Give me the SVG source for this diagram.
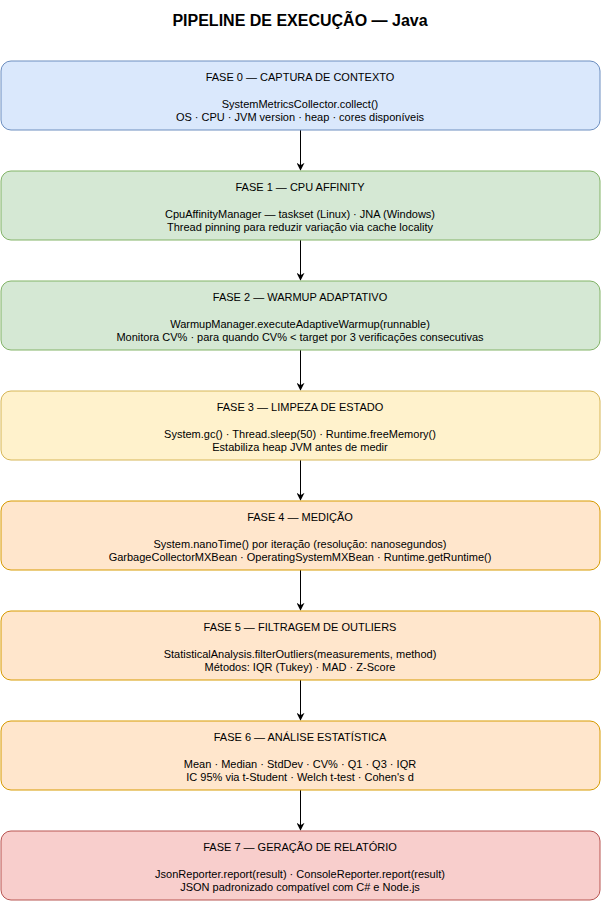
<svg xmlns="http://www.w3.org/2000/svg" width="601" height="901" viewBox="0 0 601 901">
<style>
text{font-family:"Liberation Sans",Arial,sans-serif;font-size:11px;fill:#000;text-anchor:middle}
.title{font-size:16px;font-weight:bold}
.box{stroke-width:1}
.b0{fill:#dae8fc;stroke:#6c8ebf}
.g{fill:#d5e8d4;stroke:#82b366}
.y{fill:#fff2cc;stroke:#d6b656}
.o{fill:#ffe6cc;stroke:#d79b00}
.r{fill:#f8cecc;stroke:#b85450}
.edge{stroke:#000;stroke-width:1;fill:none}
</style>
<defs>
<marker id="arr" viewBox="0 0 10 10" refX="9" refY="5" markerWidth="8" markerHeight="8" markerUnits="userSpaceOnUse" orient="auto">
<path d="M0,0 L10,5 L0,10 L3,5 Z" fill="#000"/>
</marker>
</defs>
<rect width="601" height="901" fill="#fff"/>
<text class="title" x="300" y="26">PIPELINE DE EXECUÇÃO — Java</text>
<g id="connectors">
<line class="edge" x1="300.5" y1="130" x2="300.5" y2="170" marker-end="url(#arr)"/>
<line class="edge" x1="300.5" y1="240" x2="300.5" y2="280" marker-end="url(#arr)"/>
<line class="edge" x1="300.5" y1="350" x2="300.5" y2="390" marker-end="url(#arr)"/>
<line class="edge" x1="300.5" y1="460" x2="300.5" y2="500" marker-end="url(#arr)"/>
<line class="edge" x1="300.5" y1="570" x2="300.5" y2="610" marker-end="url(#arr)"/>
<line class="edge" x1="300.5" y1="680" x2="300.5" y2="720" marker-end="url(#arr)"/>
<line class="edge" x1="300.5" y1="790" x2="300.5" y2="830" marker-end="url(#arr)"/>
</g>
<g id="fase0">
<rect class="box b0" x="1" y="61" width="599" height="69" rx="10"/>
<text x="300" y="81">FASE 0 — CAPTURA DE CONTEXTO</text>
<text x="300" y="108">SystemMetricsCollector.collect()</text>
<text x="300" y="121">OS · CPU · JVM version · heap · cores disponíveis</text>
</g>
<g id="fase1">
<rect class="box g" x="1" y="171" width="599" height="69" rx="10"/>
<text x="300" y="191">FASE 1 — CPU AFFINITY</text>
<text x="300" y="218">CpuAffinityManager — taskset (Linux) · JNA (Windows)</text>
<text x="300" y="231">Thread pinning para reduzir variação via cache locality</text>
</g>
<g id="fase2">
<rect class="box g" x="1" y="281" width="599" height="69" rx="10"/>
<text x="300" y="301">FASE 2 — WARMUP ADAPTATIVO</text>
<text x="300" y="328">WarmupManager.executeAdaptiveWarmup(runnable)</text>
<text x="300" y="341">Monitora CV% · para quando CV% &lt; target por 3 verificações consecutivas</text>
</g>
<g id="fase3">
<rect class="box y" x="1" y="391" width="599" height="69" rx="10"/>
<text x="300" y="411">FASE 3 — LIMPEZA DE ESTADO</text>
<text x="300" y="438">System.gc() · Thread.sleep(50) · Runtime.freeMemory()</text>
<text x="300" y="451">Estabiliza heap JVM antes de medir</text>
</g>
<g id="fase4">
<rect class="box o" x="1" y="501" width="599" height="69" rx="10"/>
<text x="300" y="521">FASE 4 — MEDIÇÃO</text>
<text x="300" y="548">System.nanoTime() por iteração (resolução: nanosegundos)</text>
<text x="300" y="561">GarbageCollectorMXBean · OperatingSystemMXBean · Runtime.getRuntime()</text>
</g>
<g id="fase5">
<rect class="box o" x="1" y="611" width="599" height="69" rx="10"/>
<text x="300" y="631">FASE 5 — FILTRAGEM DE OUTLIERS</text>
<text x="300" y="658">StatisticalAnalysis.filterOutliers(measurements, method)</text>
<text x="300" y="671">Métodos: IQR (Tukey) · MAD · Z-Score</text>
</g>
<g id="fase6">
<rect class="box o" x="1" y="721" width="599" height="69" rx="10"/>
<text x="300" y="741">FASE 6 — ANÁLISE ESTATÍSTICA</text>
<text x="300" y="768">Mean · Median · StdDev · CV% · Q1 · Q3 · IQR</text>
<text x="300" y="781">IC 95% via t-Student · Welch t-test · Cohen's d</text>
</g>
<g id="fase7">
<rect class="box r" x="1" y="831" width="599" height="69" rx="10"/>
<text x="300" y="851">FASE 7 — GERAÇÃO DE RELATÓRIO</text>
<text x="300" y="878">JsonReporter.report(result) · ConsoleReporter.report(result)</text>
<text x="300" y="891">JSON padronizado compatível com C# e Node.js</text>
</g>
</svg>
